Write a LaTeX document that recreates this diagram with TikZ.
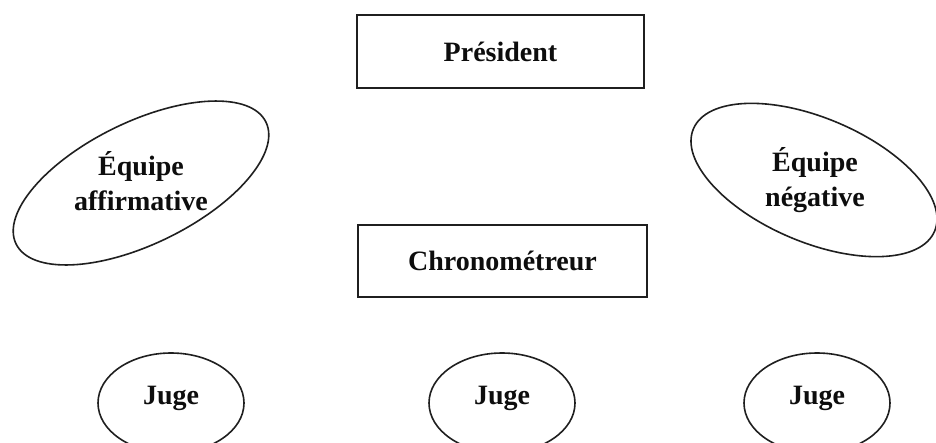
\documentclass[tikz,border=0pt]{standalone}
\usepackage{fontspec}
\setmainfont{Liberation Serif}
\usetikzlibrary{shapes.geometric}
\tikzset{
  lbl/.style={font=\bfseries\fontsize{28}{35}\selectfont, align=center, inner sep=0pt, text=black!95},
  rolebox/.style={draw=black!88, line width=1.8pt, rectangle, inner sep=0pt, outer sep=0pt},
  teamell/.style={draw=black!88, line width=1.6pt, ellipse, inner sep=0pt, outer sep=0pt},
  jugeell/.style={draw=black!88, line width=1.6pt, ellipse, inner sep=0pt, outer sep=0pt,
                  minimum width=146pt, minimum height=100pt}
}
\begin{document}
\begin{tikzpicture}[x=1pt,y=-1pt]
\clip (0,0) rectangle (936,442);
\fill[white] (0,0) rectangle (936,442);
% boxes
\node[rolebox, minimum width=287pt, minimum height=73pt] (pres) at (500.5,51.5) {};
\node[lbl] (prest) at (500.5,51.5) {Président};
\node[rolebox, minimum width=289pt, minimum height=72pt] (chrono) at (502.5,261) {};
\node[lbl] (chronot) at (502.5,261) {Chronométreur};
% team ellipses
\node[teamell, minimum width=278pt, minimum height=122pt, rotate=26] (aff) at (141,183) {};
\node[lbl] (afft) at (141,181) {Équipe\\affirmative};
\node[teamell, minimum width=262pt, minimum height=124pt, rotate=-23] (neg) at (814,180) {};
\node[lbl] (negt) at (815,180) {Équipe\\négative};
% judges
\node[jugeell] (j1) at (171,403) {};
\node[lbl] (j1t) at (171,398) {Juge};
\node[jugeell] (j2) at (502,403) {};
\node[lbl] (j2t) at (502,398) {Juge};
\node[jugeell] (j3) at (817,403) {};
\node[lbl] (j3t) at (817,398) {Juge};
\end{tikzpicture}
\end{document}
